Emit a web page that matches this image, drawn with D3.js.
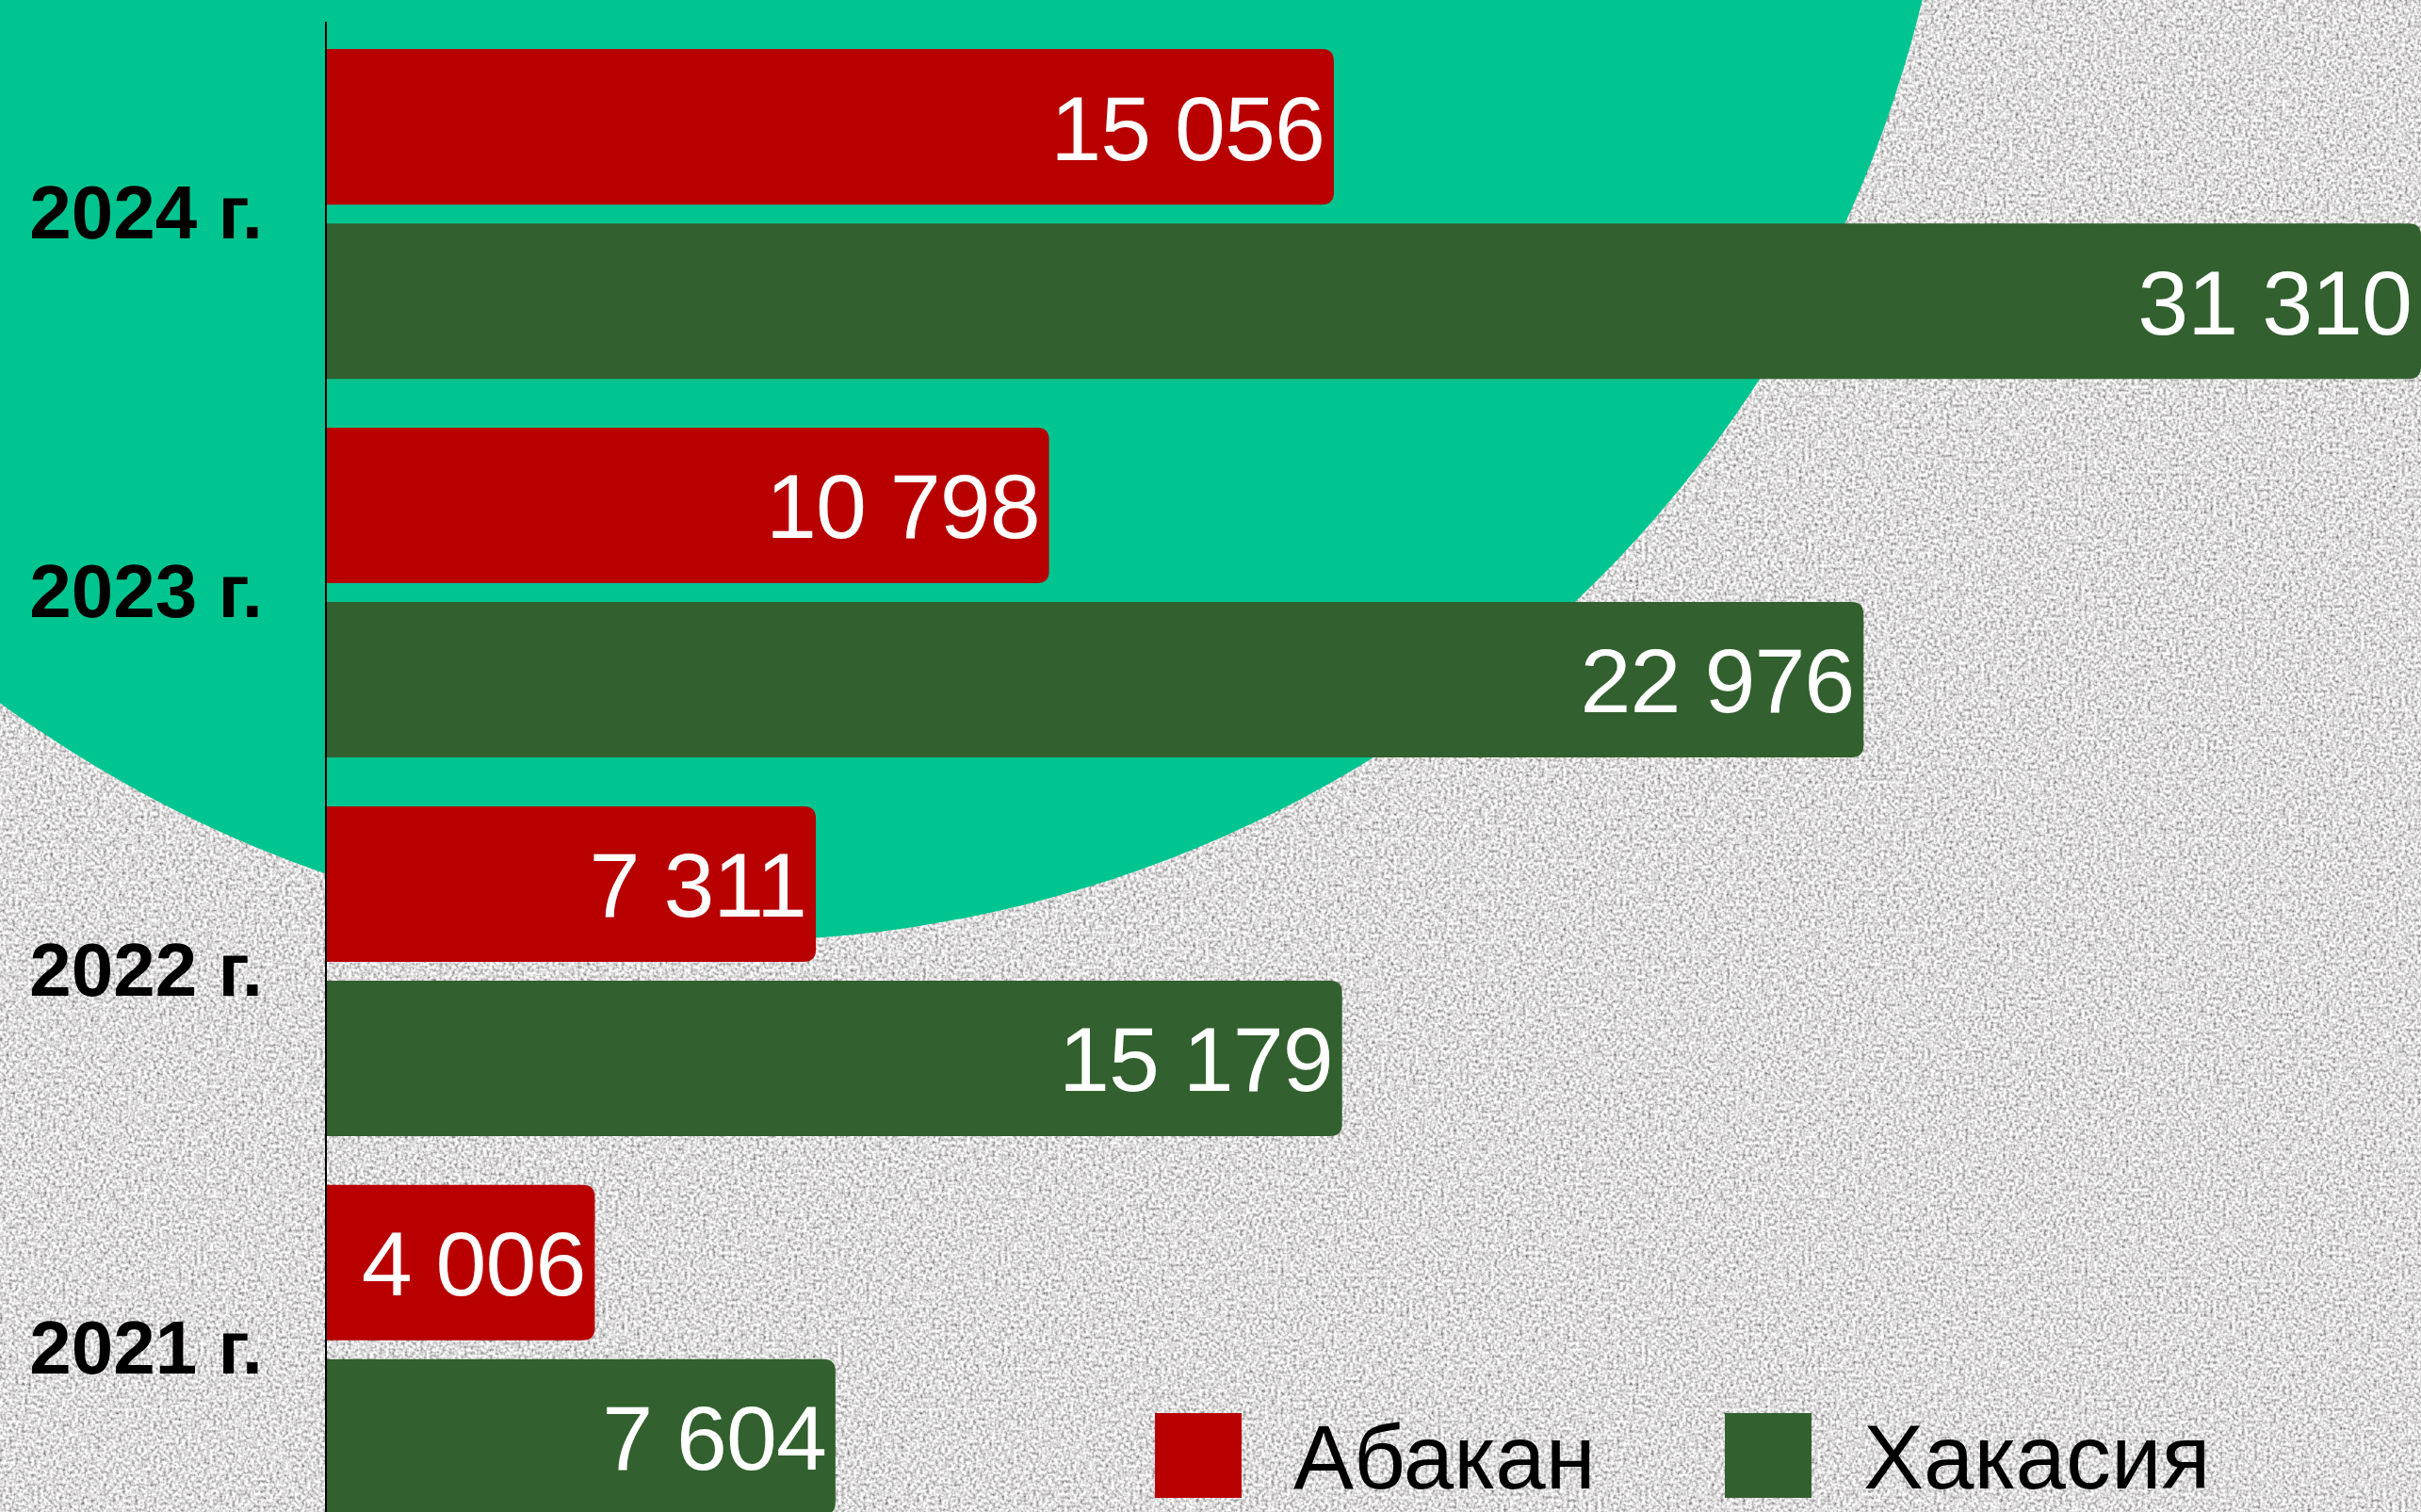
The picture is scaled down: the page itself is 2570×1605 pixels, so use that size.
<!DOCTYPE html>
<html>
<head>
<meta charset="utf-8">
<script src="https://cdn.jsdelivr.net/npm/d3@7"></script>
<style>
  body { margin: 0; background: #bbb; }
  svg { display: block; }
</style>
</head>
<body>
<svg id="chart"></svg>
<script>
// data
const years = ['2024 г.', '2023 г.', '2022 г.', '2021 г.']
const seriesNames = ['Абакан', 'Хакасия']
const abakan = [15056, 10798, 7311, 4006]
const khakasia = [31310, 22976, 15179, 7604]
const seriesColors = ['#b80000', '#32602e']

const width = 2570
const height = 1605
const margin = { top: 26, left: 347 }

const svg = d3.select('#chart')
  .attr('width', width)
  .attr('height', height)

// noisy grey paper background
const defs = svg.append('defs')
const noise = defs.append('filter')
  .attr('id', 'noise')
  .attr('x', 0).attr('y', 0).attr('width', '100%').attr('height', '100%')
noise.append('feTurbulence')
  .attr('type', 'fractalNoise')
  .attr('baseFrequency', 0.3)
  .attr('numOctaves', 2)
  .attr('seed', 3)
  .attr('stitchTiles', 'stitch')
noise.append('feColorMatrix')
  .attr('type', 'matrix')
  .attr('values', '1.5 0 0 0 -0.02  1.5 0 0 0 -0.03  1.5 0 0 0 -0.03  0 0 0 0 1')
noise.append('feGaussianBlur')
  .attr('stdDeviation', 0.6)

svg.append('rect')
  .attr('width', width)
  .attr('height', height)
  .attr('fill', '#b8b8b8')
svg.append('rect')
  .attr('width', width)
  .attr('height', height)
  .attr('filter', 'url(#noise)')

// big green circle
svg.append('circle')
  .attr('cx', 772)
  .attr('cy', -306)
  .attr('r', 1305)
  .attr('fill', '#01c590')

// scales
const y0 = d3.scaleBand()
  .domain(years)
  .range([margin.top, 1634])
  .paddingInner(0.129)
  .paddingOuter(0.065)

const y1 = d3.scaleBand()
  .domain(seriesNames)
  .range([0, y0.bandwidth()])
  .paddingInner(0.108)

const x = d3.scaleLinear()
  .domain([0, 31310])
  .range([margin.left, 2570])

const color = d3.scaleOrdinal().domain(seriesNames).range(seriesColors)

const rows = years.map((year, i) => ({
  year: year,
  values: [
    { name: seriesNames[0], value: abakan[i] },
    { name: seriesNames[1], value: khakasia[i] }
  ]
}))

const fmt = d3.formatLocale({ decimal: ',', thousands: ' ', grouping: [3], currency: ['', ''] }).format(',')

// bar with rounded right corners only
function barPath(x0, y, w, h, r) {
  return `M${x0},${y}H${x0 + w - r}Q${x0 + w},${y} ${x0 + w},${y + r}` +
    `V${y + h - r}Q${x0 + w},${y + h} ${x0 + w - r},${y + h}H${x0}Z`
}

const groups = svg.append('g')
  .selectAll('g')
  .data(rows)
  .enter()
  .append('g')
  .attr('transform', d => `translate(0, ${y0(d.year)})`)

groups.selectAll('path')
  .data(d => d.values)
  .enter()
  .append('path')
  .attr('fill', d => color(d.name))
  .attr('d', d => barPath(x(0), y1(d.name), x(d.value) - x(0), y1.bandwidth(), 13))

groups.selectAll('text')
  .data(d => d.values)
  .enter()
  .append('text')
  .attr('x', d => x(d.value) - 10)
  .attr('y', d => y1(d.name) + y1.bandwidth() / 2)
  .attr('dy', '0.36em')
  .attr('text-anchor', 'end')
  .attr('fill', '#fff')
  .style('font-family', '"Liberation Sans", Arial, sans-serif')
  .style('font-size', '97px')
  .style('letter-spacing', '-1px')
  .text(d => fmt(d.value))

// y axis
const leftAxis = d3.axisLeft(y0).tickSize(0).tickSizeOuter(0).tickPadding(67)
const axisG = svg.append('g')
  .attr('transform', `translate(${margin.left - 1}, 0)`)
  .call(leftAxis)
axisG.select('.domain')
  .attr('stroke', '#000')
  .attr('stroke-width', 2)
  .attr('d', `M0,23V${height}`)
axisG.selectAll('text')
  .attr('fill', '#000')
  .style('font-family', '"Liberation Sans", Arial, sans-serif')
  .style('font-weight', 'bold')
  .style('font-size', '80px')

// legend
const legendX = [1226, 1831]
const legend = svg.append('g')
  .selectAll('g')
  .data(seriesNames)
  .enter()
  .append('g')
  .attr('transform', (d, i) => `translate(${legendX[i]}, 1500)`)
legend.append('rect')
  .attr('width', 92)
  .attr('height', 90)
  .attr('fill', d => color(d))
legend.append('text')
  .attr('x', 147)
  .attr('y', 45)
  .attr('dy', '0.36em')
  .attr('fill', '#000')
  .style('font-family', '"Liberation Sans", Arial, sans-serif')
  .style('font-size', '96px')
  .text(d => d)
</script>
</body>
</html>
